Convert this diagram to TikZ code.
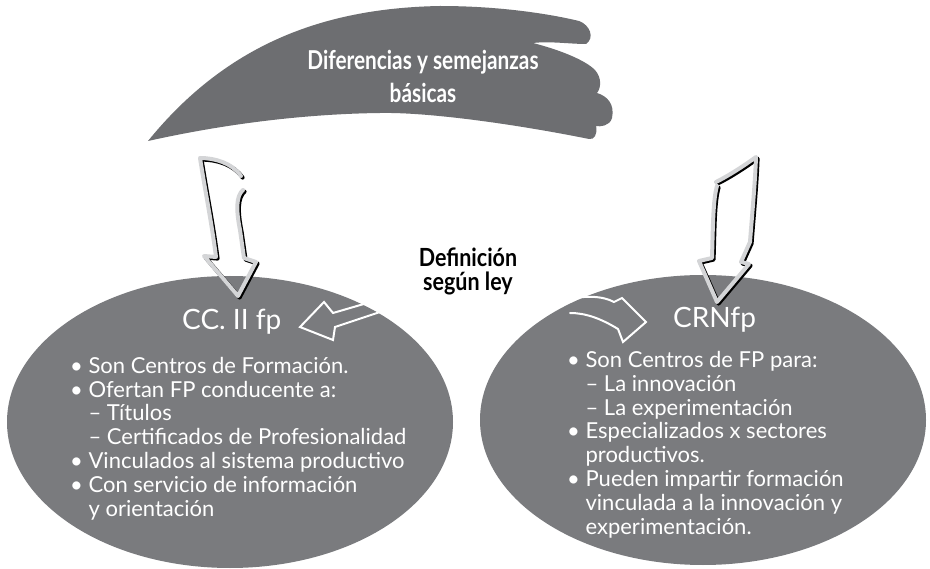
\documentclass[tikz,border=0pt]{standalone}
\usepackage{fontspec}
\setmainfont{Lato}
\newfontfamily\titlefont[FakeStretch=0.8]{Lato}
\newfontfamily\deffont[FakeStretch=0.86]{Lato}
\definecolor{bannergray}{HTML}{6D6E71}
\definecolor{ellgray}{HTML}{7A7B7E}
\definecolor{arrowgray}{HTML}{D4D5D7}
\tikzset{
  ellbox/.style={draw=none, fill=ellgray},
  bigarrow/.style={line width=4pt, draw=arrowgray, line join=round, line cap=round},
  arrowshadow/.style={line width=4pt, draw=black, line join=round, line cap=round, shift={(1.6,1.6)}},
  whitearrow/.style={line width=2pt, draw=white, line join=miter, line cap=round},
  bodytext/.style={text=white, align=left, inner sep=0pt, font=\fontsize{22}{23.8}\selectfont},
  titletext/.style={text=white, inner sep=0pt, font=\fontsize{28}{30}\selectfont}
}
\begin{document}
\begin{tikzpicture}[x=1pt,y=-1pt]
\useasboundingbox (0,0) rectangle (930,569);
\fill[white] (0,0) rectangle (930,569);

% banner
\fill[bannergray] (148,141) .. controls (230,40) and (330,8) .. (440,6)
  .. controls (500,6) and (550,14) .. (579,21)
  .. controls (590,25) and (595,38) .. (586,44)
  .. controls (570,44) and (550,41) .. (533,43)
  .. controls (560,50) and (585,60) .. (595,70)
  .. controls (602,78) and (601,88) .. (597,93)
  .. controls (607,96) and (615,104) .. (612,118)
  .. controls (610,126) and (600,127) .. (596,126)
  .. controls (598,134) and (594,140) .. (589,139)
  .. controls (520,125) and (430,112) .. (380,113)
  .. controls (300,114) and (220,125) .. (148,141) -- cycle;
\node[text=white, align=center, inner sep=0pt, font=\titlefont\bfseries\fontsize{26}{33}\selectfont] (title) at (423,76) {Diferencias y semejanzas\\básicas};

% ellipses
\fill[ellbox] (230,422) ellipse [x radius=223pt, y radius=146pt];
\fill[ellbox] (703,420) ellipse [x radius=223pt, y radius=145pt];
\coordinate (ccii) at (230,422);
\coordinate (crn) at (703,420);

% big arrow left
\draw[arrowshadow] (243,190) .. controls (236,196) and (236,210) .. (240,230) -- (244,258) -- (256,262) -- (238,296) -- (204,256) -- (216,257) .. controls (212,225) and (205,190) .. (200,158) .. controls (215,158) and (232,163) .. (241,176);
\draw[bigarrow] (243,190) .. controls (236,196) and (236,210) .. (240,230) -- (244,258) -- (256,262) -- (238,296) -- (204,256) -- (216,257) .. controls (212,225) and (205,190) .. (200,158) .. controls (215,158) and (232,163) .. (241,176);

% big arrow right
\draw[arrowshadow] (717,186) .. controls (713,200) and (713,225) .. (712,258) -- (699,261) -- (717,302) -- (749,264) -- (741,262) -- (750,242) .. controls (752,215) and (755,185) .. (756,157) .. controls (745,165) and (730,175) .. (716,182);
\draw[bigarrow] (717,186) .. controls (713,200) and (713,225) .. (712,258) -- (699,261) -- (717,302) -- (749,264) -- (741,262) -- (750,242) .. controls (752,215) and (755,185) .. (756,157) .. controls (745,165) and (730,175) .. (716,182);

% white arrows
\draw[whitearrow] (381,299) -- (333,313) -- (324,302) -- (300,327) -- (333,340) -- (335,327) -- (383,311);
\draw[whitearrow] (566,300) .. controls (585,295) and (603,296) .. (614,302) -- (622,298) -- (646,322) -- (623,342) -- (618,329) .. controls (600,318) and (585,313) .. (570,313);

% labels
\node[font=\deffont\bfseries\fontsize{25}{24}\selectfont, align=center, inner sep=0pt] (def) at (468,271) {Definición\\según ley};
\node[titletext, anchor=base west] (cctitle) at (182,330) {CC. II fp};
\node[titletext, anchor=base west] (crntitle) at (673,328) {CRNfp};

\node[bodytext, anchor=base west] (cctext) at (70,516) {%
• Son Centros de Formación.\\
• Ofertan FP conducente a:\\
\phantom{•\ }– Títulos\\
\phantom{•\ }– Certificados de Profesionalidad\\
• Vinculados al sistema productivo\\
• Con servicio de información\\
\phantom{•\ }y orientación};

\node[bodytext, anchor=base west] (crntext) at (567,534) {%
• Son Centros de FP para:\\
\phantom{•\ }– La innovación\\
\phantom{•\ }– La experimentación\\
• Especializados x sectores\\
\phantom{•\ }productivos.\\
• Pueden impartir formación\\
\phantom{•\ }vinculada a la innovación y\\
\phantom{•\ }experimentación.};
\end{tikzpicture}
\end{document}
